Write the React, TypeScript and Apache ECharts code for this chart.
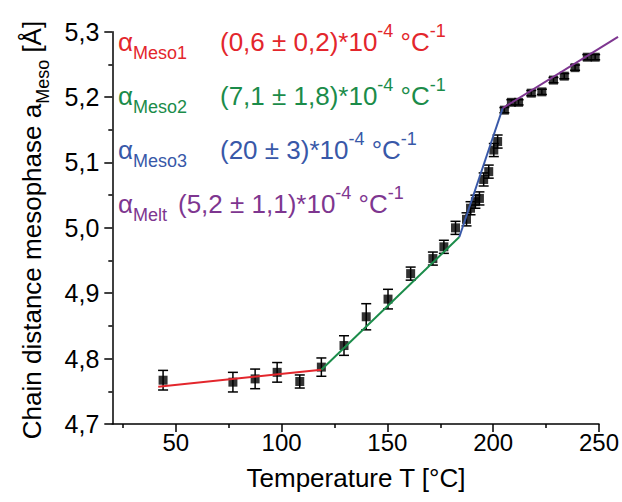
import React, { useEffect, useRef } from 'react';
import * as echarts from 'echarts';

const temperatures = [44.0, 77.0, 87.5, 97.9, 108.6, 118.8, 129.5, 140.0, 150.3, 161.0, 171.5, 176.7, 182.2, 187.4, 189.3, 191.6, 193.5, 195.5, 197.9, 200.3, 202.1, 205.3, 208.6, 212.0, 218.0, 223.0, 228.5, 233.6, 238.7, 244.5, 248.2];
const distances = [4.767, 4.764, 4.769, 4.779, 4.765, 4.787, 4.820, 4.864, 4.891, 4.930, 4.953, 4.971, 5.000, 5.013, 5.030, 5.040, 5.045, 5.074, 5.086, 5.119, 5.132, 5.180, 5.192, 5.192, 5.206, 5.208, 5.226, 5.232, 5.245, 5.261, 5.261];
const errors = [0.015, 0.015, 0.015, 0.015, 0.010, 0.014, 0.015, 0.020, 0.015, 0.010, 0.010, 0.010, 0.010, 0.010, 0.010, 0.010, 0.010, 0.010, 0.010, 0.010, 0.010, 0.004, 0.004, 0.004, 0.004, 0.004, 0.004, 0.004, 0.004, 0.004, 0.004];

const fitMeso1 = [[41.7, 4.757], [118.8, 4.783]];
const fitMeso2 = [[118.8, 4.783], [184.0, 4.986]];
const fitMeso3 = [[184.0, 4.986], [204.5, 5.183]];
const fitMelt = [[204.5, 5.183], [259.0, 5.292]];

const xMajorTicks = [50, 100, 150, 200, 250];
const xMinorTicks = [25, 75, 125, 175, 225];
const yMajorTicks = [4.7, 4.8, 4.9, 5.0, 5.1, 5.2, 5.3];
const yMinorTicks = [4.75, 4.85, 4.95, 5.05, 5.15, 5.25];

const legendNames = ['Meso1', 'Meso2', 'Meso3', 'Melt'];
const legendValues = ['(0,6 ± 0,2)*10', '(7,1 ± 1,8)*10', '(20 ± 3)*10', '(5,2 ± 1,1)*10'];

const RED = '#e3262c';
const GREEN = '#1b8c4a';
const BLUE = '#3858a8';
const PURPLE = '#7e3690';
const legendColors = [RED, GREEN, BLUE, PURPLE];

const FONT = '"Liberation Sans", Arial, sans-serif';

function richFor(color: string) {
  return {
    m: { fontSize: 26, lineHeight: 40, fontFamily: FONT, fill: color, verticalAlign: 'middle' },
    s: { fontSize: 18, lineHeight: 18, fontFamily: FONT, fill: color, verticalAlign: 'bottom' },
    p: { fontSize: 18, lineHeight: 18, fontFamily: FONT, fill: color, verticalAlign: 'top' },
  };
}

export default function App() {
  const ref = useRef<HTMLDivElement>(null);
  useEffect(() => {
    if (!ref.current) return;
    const chart = echarts.init(ref.current, undefined, { renderer: 'svg' });
    const legendY = [42, 96, 150, 204];
    const valueX = [220, 220, 220, 178];
    const graphic: any[] = [];
    legendNames.forEach((n, i) => {
      graphic.push({
        type: 'text', x: 118, y: legendY[i],
        style: { text: `{m|α}{s|${n}}`, rich: richFor(legendColors[i]), align: 'left', verticalAlign: 'middle' },
      });
      graphic.push({
        type: 'text', x: valueX[i], y: legendY[i],
        style: { text: `{m|${legendValues[i]}}{p|-4}{m| °C}{p|-1}`, rich: richFor(legendColors[i]), align: 'left', verticalAlign: 'middle' },
      });
    });
    graphic.push({
      type: 'text', x: 32, y: 230, rotation: Math.PI / 2,
      style: { text: '{m|Chain distance mesophase a}{s|Meso}{m| [Å]}', rich: richFor('#000'), align: 'center', verticalAlign: 'middle' },
    });
    graphic.push({
      type: 'text', x: 356, y: 478,
      style: { text: 'Temperature T [°C]', fontSize: 26, fontFamily: FONT, fill: '#000', align: 'center', verticalAlign: 'middle' },
    });

    const axisLine = { show: true, onZero: false, lineStyle: { color: '#000', width: 1.5 } };
    const fmt = (v: number) => v.toFixed(1).replace('.', ',');

    const fits = [fitMeso1, fitMeso2, fitMeso3, fitMelt];

    const option: any = {
      animation: false,
      grid: { left: 112.3, right: 21.5, top: 31.7, bottom: 78, containLabel: false },
      xAxis: [
        {
          type: 'value', min: 20, max: 250, position: 'bottom',
          axisLine,
          splitLine: { show: false },
          axisTick: { show: true, inside: false, length: 8, customValues: xMajorTicks, lineStyle: { color: '#000', width: 1.5 } },
          axisLabel: { show: true, customValues: xMajorTicks, fontSize: 24, fontFamily: FONT, color: '#000', margin: 6 },
        },
        {
          type: 'value', min: 20, max: 250, position: 'bottom',
          axisLine: { show: false, onZero: false },
          splitLine: { show: false },
          axisTick: { show: true, inside: false, length: 4, customValues: xMinorTicks, lineStyle: { color: '#000', width: 1.5 } },
          axisLabel: { show: false },
        },
      ],
      yAxis: [
        {
          type: 'value', min: 4.7, max: 5.3, position: 'left',
          axisLine,
          splitLine: { show: false },
          axisTick: { show: true, inside: false, length: 8, customValues: yMajorTicks, lineStyle: { color: '#000', width: 1.5 } },
          axisLabel: { show: true, customValues: yMajorTicks, formatter: fmt, fontSize: 25, fontFamily: FONT, color: '#000', margin: 13 },
        },
        {
          type: 'value', min: 4.7, max: 5.3, position: 'left',
          axisLine: { show: false, onZero: false },
          splitLine: { show: false },
          axisTick: { show: true, inside: false, length: 4, customValues: yMinorTicks, lineStyle: { color: '#000', width: 1.5 } },
          axisLabel: { show: false },
        },
      ],
      series: [
        {
          type: 'custom',
          xAxisIndex: 0, yAxisIndex: 0,
          data: temperatures.map((t, i) => [t, distances[i], errors[i]]),
          encode: { x: 0, y: 1 },
          z: 2,
          renderItem: (params: any, api: any) => {
            const x = api.value(0), y = api.value(1), e = api.value(2);
            const top = api.coord([x, y + e]);
            const bot = api.coord([x, y - e]);
            const hw = 5;
            const st = { stroke: '#000', lineWidth: 1.5 };
            return {
              type: 'group',
              children: [
                { type: 'line', shape: { x1: top[0], y1: top[1], x2: bot[0], y2: bot[1] }, style: st },
                { type: 'line', shape: { x1: top[0] - hw, y1: top[1], x2: top[0] + hw, y2: top[1] }, style: st },
                { type: 'line', shape: { x1: bot[0] - hw, y1: bot[1], x2: bot[0] + hw, y2: bot[1] }, style: st },
              ],
            };
          },
        },
        {
          type: 'scatter', xAxisIndex: 0, yAxisIndex: 0, z: 3,
          symbol: 'rect', symbolSize: 9,
          itemStyle: { color: '#000' },
          data: temperatures.map((t, i) => [t, distances[i]]),
        },
        ...fits.map((d, i) => ({
          type: 'custom', xAxisIndex: 0, yAxisIndex: 0, z: 4,
          clip: false,
          data: d,
          encode: { x: 0, y: 1 },
          renderItem: (params: any, api: any) => {
            if (params.dataIndex !== 0) return null;
            const pts = d.map((p) => api.coord(p));
            return {
              type: 'polyline',
              shape: { points: pts },
              style: { stroke: legendColors[i], lineWidth: 2, fill: 'none' },
            };
          },
        })),
      ],
      graphic,
    };
    chart.setOption(option);
    return () => chart.dispose();
  }, []);
  return <div ref={ref} style={{ position: 'fixed', left: 0, top: 0, width: 622, height: 502, background: '#fff' }} />;
}
